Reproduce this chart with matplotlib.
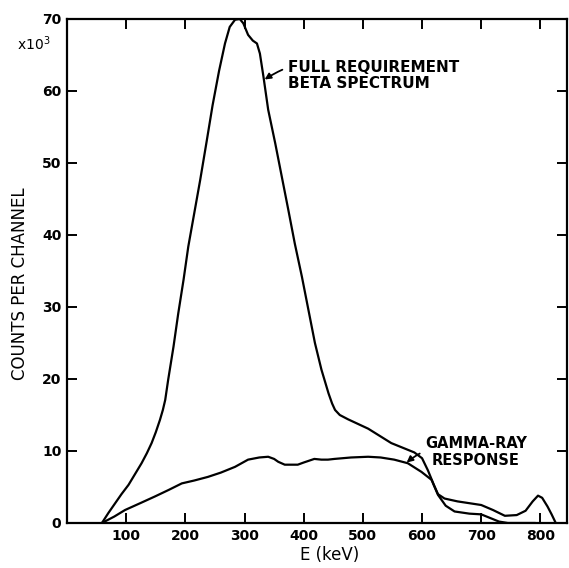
import matplotlib
matplotlib.use("Agg")
import matplotlib.pyplot as plt

# Full requirement beta spectrum (E in keV, counts in units of 10^3)
beta_e = [59, 70, 81, 92, 104, 115, 126, 135, 143, 150, 157, 162, 166, 171, 180, 188, 197,
          205, 215, 225, 236, 246, 257, 267, 275, 284, 292, 298, 306, 314, 321, 326, 332,
          340, 352, 363, 374, 385, 397, 408, 419, 430, 442, 448, 453, 461, 475, 509, 548,
          587, 600, 610, 620, 627, 638, 660, 700, 720, 740, 760, 775, 787, 796, 803, 812,
          819, 826]
beta_c = [0, 1.4, 2.7, 4.0, 5.3, 6.8, 8.3, 9.7, 11.1, 12.6, 14.3, 15.7, 17.1, 19.9, 24.5, 29.1, 33.8,
          38.4, 43.0, 47.6, 53.0, 58.0, 62.8, 66.6, 68.9, 69.9, 70.0, 69.4, 67.8, 67.0, 66.6, 65.2, 62.0,
          57.4, 52.7, 48.1, 43.5, 38.8, 34.2, 29.6, 25.0, 21.3, 18.0, 16.6, 15.7, 15.0, 14.4, 13.1, 11.1,
          9.8, 9.0, 7.3, 5.3, 4.0, 3.4, 3.0, 2.5, 1.8, 1.0, 1.1, 1.7, 3.0, 3.8, 3.5, 2.3,
          1.2, 0]

# Gamma-ray response
gamma_e = [59, 80, 98, 125, 149, 172, 194, 215, 238, 260, 284, 306, 325, 340, 350, 357, 368,
           390, 400, 418, 430, 441, 452, 480, 509, 530, 553, 576, 599, 616, 627, 640, 655,
           680, 700, 715, 730, 745, 790]
gamma_c = [0, 0.9, 1.8, 2.8, 3.7, 4.6, 5.5, 5.9, 6.4, 7.0, 7.8, 8.8, 9.1, 9.2, 8.9, 8.5, 8.1,
           8.1, 8.4, 8.9, 8.8, 8.8, 8.9, 9.1, 9.2, 9.1, 8.8, 8.3, 7.1, 6.0, 3.9, 2.4, 1.6,
           1.3, 1.2, 0.7, 0.2, 0, 0]

x_ticks = [100, 200, 300, 400, 500, 600, 700, 800]
y_ticks = [0, 10, 20, 30, 40, 50, 60, 70]

plt.rcParams["font.family"] = ["DejaVu Sans"]

fig = plt.figure(figsize=(5.69, 5.68), dpi=100)
ax = fig.add_axes([67 / 569, 1 - 523 / 568, 500 / 569, 504 / 568])

ax.plot(beta_e, beta_c, color="black", linewidth=1.6, solid_joinstyle="round")
ax.plot(gamma_e, gamma_c, color="black", linewidth=1.6, solid_joinstyle="round")

ax.set_xlim(0, 845)
ax.set_ylim(0, 70)
ax.set_xticks(x_ticks)
ax.set_yticks(y_ticks)
ax.set_xticklabels([str(v) for v in x_ticks], fontsize=10, fontweight="bold")
ax.set_yticklabels([str(v) for v in y_ticks], fontsize=10, fontweight="bold")
ax.tick_params(direction="in", length=7, width=1.4, top=True, right=True, pad=4)
for s in ax.spines.values():
    s.set_linewidth(1.6)

ax.annotate("FULL REQUIREMENT\nBETA SPECTRUM", xy=(334, 61.6), xytext=(373, 62.2),
            fontsize=11, fontweight="bold", ha="left", va="center", linespacing=1.1,
            arrowprops=dict(arrowstyle="-|>", color="black", lw=1.3, shrinkA=2, shrinkB=0,
                            mutation_scale=9, connectionstyle="arc3,rad=0.3"))
ax.annotate("GAMMA-RAY\nRESPONSE", xy=(574, 8.4), xytext=(605, 9.9),
            fontsize=10.5, fontweight="bold", ha="left", va="center", multialignment="center",
            linespacing=1.15,
            arrowprops=dict(arrowstyle="-|>", color="black", lw=1.3, shrinkA=2, shrinkB=0,
                            mutation_scale=9, connectionstyle="arc3,rad=0.3"))

fig.text(17 / 569, 1 - 44 / 568, "x10$^3$", fontsize=10, ha="left", va="center")
fig.text(20 / 569, 1 - 284 / 568, "COUNTS PER CHANNEL", fontsize=12, rotation=90,
         ha="center", va="center")
fig.text(330 / 569, 1 - 555 / 568, "E (keV)", fontsize=12, ha="center", va="center")

fig.savefig("out.png", dpi=100)
